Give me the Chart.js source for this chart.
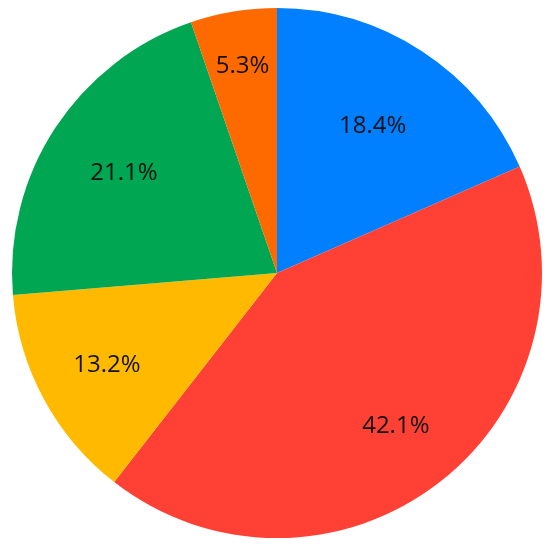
<!DOCTYPE html>
<html>
<head>
<meta charset="utf-8">
<script src="https://cdn.jsdelivr.net/npm/chart.js@4/dist/chart.umd.min.js"></script>
<style>
  html, body { margin: 0; padding: 0; background: #fff; }
  canvas { display: block; }
</style>
</head>
<body>
<canvas id="pieChart" width="550" height="547"></canvas>
<script>
// Données du graphique (sens horaire depuis le haut)
const categories = ['A', 'B', 'C', 'D', 'E'];
const values = [7, 16, 5, 8, 2];
const percentLabels = ['18.4%', '42.1%', '13.2%', '21.1%', '5.3%'];
const sliceColors = ['#0080FF', '#FF4034', '#FFBA00', '#00A651', '#FF6A00'];

// Étiquettes de pourcentage dessinées à l'intérieur des parts
const labelRadius = [0.66, 0.73, 0.73, 0.69, 0.79];
const sliceLabels = {
    id: 'sliceLabels',
    afterDatasetsDraw(chart) {
        const ctx = chart.ctx;
        const meta = chart.getDatasetMeta(0);
        ctx.save();
        ctx.font = '24px "Open Sans"';
        ctx.fillStyle = '#111';
        ctx.textAlign = 'center';
        ctx.textBaseline = 'middle';
        meta.data.forEach((arc, i) => {
            const p = arc.getProps(['x', 'y', 'startAngle', 'endAngle', 'outerRadius'], true);
            const mid = (p.startAngle + p.endAngle) / 2;
            const r = p.outerRadius * labelRadius[i];
            ctx.fillText(percentLabels[i], p.x + Math.cos(mid) * r, p.y + Math.sin(mid) * r);
        });
        ctx.restore();
    }
};

const pieCtx = document.getElementById('pieChart').getContext('2d');
new Chart(pieCtx, {
    type: 'pie',
    data: {
        labels: categories,
        datasets: [{
            data: values,
            backgroundColor: sliceColors,
            borderWidth: 0
        }]
    },
    options: {
        responsive: false,
        animation: false,
        layout: { padding: { left: 12, right: 8, top: 8, bottom: 9 } },
        plugins: {
            legend: { display: false },
            tooltip: { enabled: false }
        }
    },
    plugins: [sliceLabels]
});
</script>
</body>
</html>
